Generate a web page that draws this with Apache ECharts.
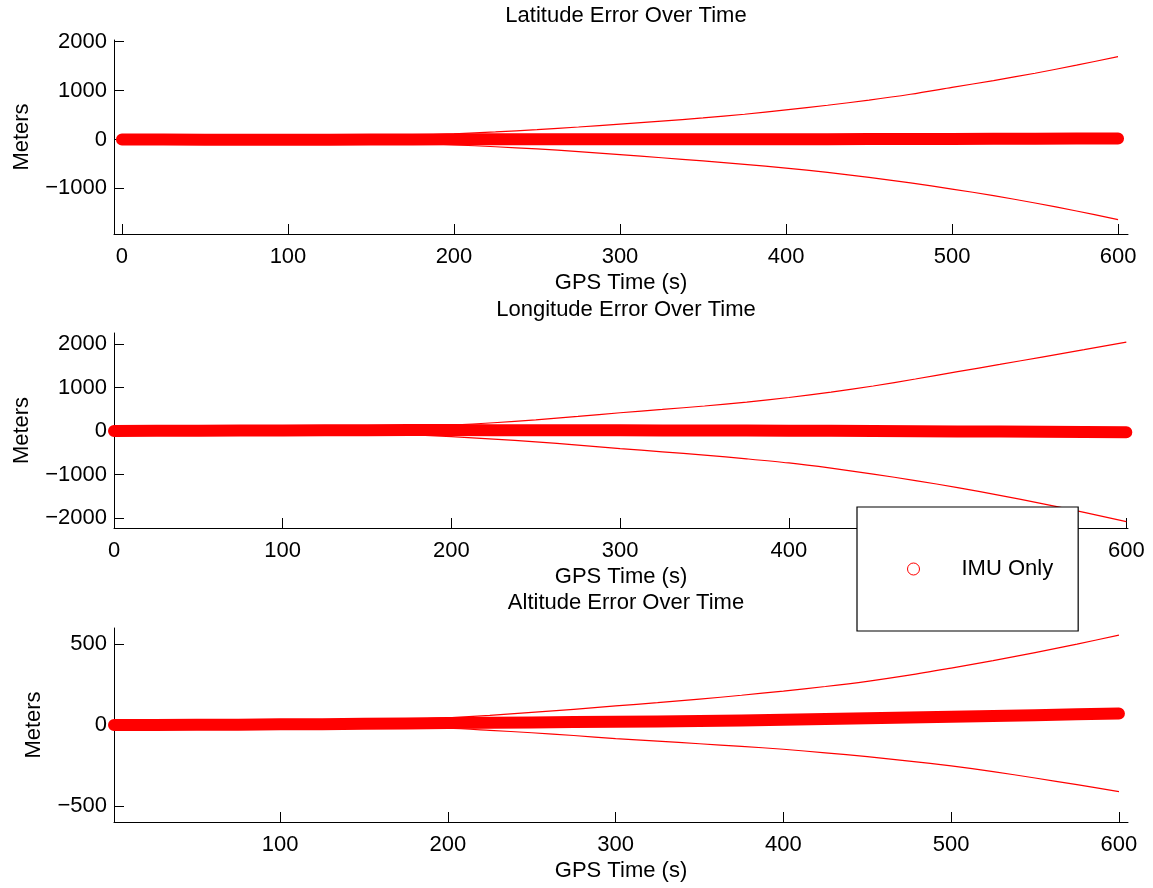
<!DOCTYPE html>
<html>
<head>
<meta charset="utf-8">
<script src="https://cdn.jsdelivr.net/npm/echarts@6/dist/echarts.min.js"></script>
<style>
html,body{margin:0;padding:0;background:#fff;}
#chart{width:1153px;height:888px;}
</style>
</head>
<body>
<div id="chart"></div>
<script>
// ---- data ----
const time = [0,25,50,75,100,125,150,175,200,225,250,275,300,325,350,375,400,425,450,475,500,525,550,575,600];
const time3 = [1,25,50,75,100,125,150,175,200,225,250,275,300,325,350,375,400,425,450,475,500,525,550,575,600];

const latErr   = [0,-2,-4,-5,-6,-5,-3,0,2,3,4,4,4,4,4,4,5,6,8,10,11,13,15,17,18];
const latUpper = [0,2,5,10,20,35,55,80,115,155,200,255,314,375,440,515,605,700,805,925,1065,1205,1355,1520,1695];
const latLower = [0,-2,-5,-10,-19,-34,-53,-77,-110,-150,-193,-250,-312,-375,-440,-510,-585,-675,-775,-890,-1015,-1150,-1300,-1465,-1640];

const lonErr   = [0,3,6,10,14,17,20,22,22,20,18,17,15,13,12,11,8,4,0,-4,-9,-14,-19,-24,-29];
const lonUpper = [0,2,6,12,22,38,58,90,135,190,255,335,420,495,575,665,770,895,1035,1195,1365,1530,1700,1870,2045];
const lonLower = [0,-2,-6,-12,-21,-36,-55,-86,-130,-185,-250,-325,-405,-478,-555,-640,-735,-855,-990,-1140,-1300,-1480,-1670,-1870,-2083];

const altErr   = [0,0,1,2,4,5,7,9,12,14,16,18,20,22,24,28,32,37,42,46,51,56,61,66,71];
const altUpper = [0,1,3,5,9,14,22,34,45,60,78,97,118,138,160,184,210,238,270,308,352,398,448,500,556];
const altLower = [0,-1,-3,-5,-8,-11,-14,-17,-20,-33,-48,-65,-84,-100,-116,-132,-150,-172,-196,-223,-253,-288,-328,-369,-412];

const titles = ['Latitude Error Over Time','Longitude Error Over Time','Altitude Error Over Time'];
const xTicks12 = [0,100,200,300,400,500,600];
const xTicks3 = [100,200,300,400,500,600];
const yTicks1 = [-1000,0,1000,2000];
const yTicks2 = [-2000,-1000,0,1000,2000];
const yTicks3 = [-500,0,500];

// ---- chart ----
const FONT = "'Liberation Sans', Arial, Helvetica, sans-serif";
const FS = 22;
const fmt = v => v < 0 ? '\u2212' + (-v) : String(v);
const zip = (xs, ys) => xs.map((x, i) => [x, ys[i]]);

const grids = [
  {left:114, top:40, width:1014, height:194},
  {left:114, top:333, width:1014, height:195},
  {left:114, top:628, width:1014, height:194}
];
const xRanges = [[-4.8,606],[0,601],[1,605.4]];
const yRanges = [[-1935,2035],[-2230,2253],[-600,600]];
const xTickSets = [xTicks12, xTicks12, xTicks3];
const yTickSets = [yTicks1, yTicks2, yTicks3];
const yNameGaps = [81, 81, 69];

function xAxis(i){
  return {
    type:'value', gridIndex:i, min:xRanges[i][0], max:xRanges[i][1],
    name:'GPS Time (s)', nameLocation:'middle', nameGap:38,
    nameTextStyle:{fontSize:FS, color:'#000', fontFamily:FONT},
    axisLine:{show:true, onZero:false, lineStyle:{color:'#000', width:1}},
    axisTick:{show:true, inside:true, length:10, customValues:xTickSets[i], lineStyle:{color:'#000', width:1}},
    axisLabel:{customValues:xTickSets[i], fontSize:FS, color:'#000', fontFamily:FONT, margin:12, formatter:fmt},
    splitLine:{show:false}
  };
}
function yAxis(i){
  return {
    type:'value', gridIndex:i, min:yRanges[i][0], max:yRanges[i][1],
    name:'Meters', nameLocation:'middle', nameRotate:90, nameGap:yNameGaps[i],
    nameTextStyle:{fontSize:FS, color:'#000', fontFamily:FONT},
    axisLine:{show:true, onZero:false, lineStyle:{color:'#000', width:1}},
    axisTick:{show:true, inside:true, length:10, customValues:yTickSets[i], lineStyle:{color:'#000', width:1}},
    axisLabel:{customValues:yTickSets[i], fontSize:FS, color:'#000', fontFamily:FONT, margin:7, formatter:fmt},
    splitLine:{show:false}
  };
}

const errs = [latErr, lonErr, altErr];
const ups = [latUpper, lonUpper, altUpper];
const lows = [latLower, lonLower, altLower];
const times = [time, time, time3];

const series = [];
for (let i = 0; i < 3; i++) {
  ['up','low'].forEach((k) => {
    series.push({
      type:'line', name:'Bound ' + k + ' ' + i, xAxisIndex:i, yAxisIndex:i,
      data: zip(times[i], k === 'up' ? ups[i] : lows[i]),
      showSymbol:false, symbol:'none', smooth:0.3,
      lineStyle:{color:'#ff0000', width:1.2}, z:3, silent:true
    });
  });
  series.push({
    type:'line', name:'IMU Only', xAxisIndex:i, yAxisIndex:i,
    data: zip(times[i], errs[i]),
    showSymbol:false, symbol:'none', clip:false,
    color:'#ff0000',
    lineStyle:{color:'#ff0000', width:12, cap:'round', join:'round'}, z:2
  });
}

const chart = echarts.init(document.getElementById('chart'), null, {renderer:'canvas'});
chart.setOption({
  animation:false,
  backgroundColor:'#fff',
  textStyle:{fontFamily:FONT},
  title: titles.map((t, i) => ({
    text:t, left:621, top:[0,294,587][i], textAlign:'center',
    textStyle:{fontSize:FS, fontWeight:'normal', color:'#000', fontFamily:FONT}
  })),
  grid: grids,
  xAxis: [0,1,2].map(xAxis),
  yAxis: [0,1,2].map(yAxis),
  legend: {
    data:[{name:'IMU Only', icon:'circle', itemStyle:{color:'#fff', borderColor:'#ff0000', borderWidth:1}}],
    left:857, top:507, itemWidth:86, itemHeight:12,
    padding:[50,25,50,50],
    borderColor:'#000', borderWidth:1.2, borderRadius:0, backgroundColor:'#fff',
    textStyle:{fontSize:FS, color:'#000', fontFamily:FONT, lineHeight:24},
    selectedMode:false
  },
  series: series
});
</script>
</body>
</html>
